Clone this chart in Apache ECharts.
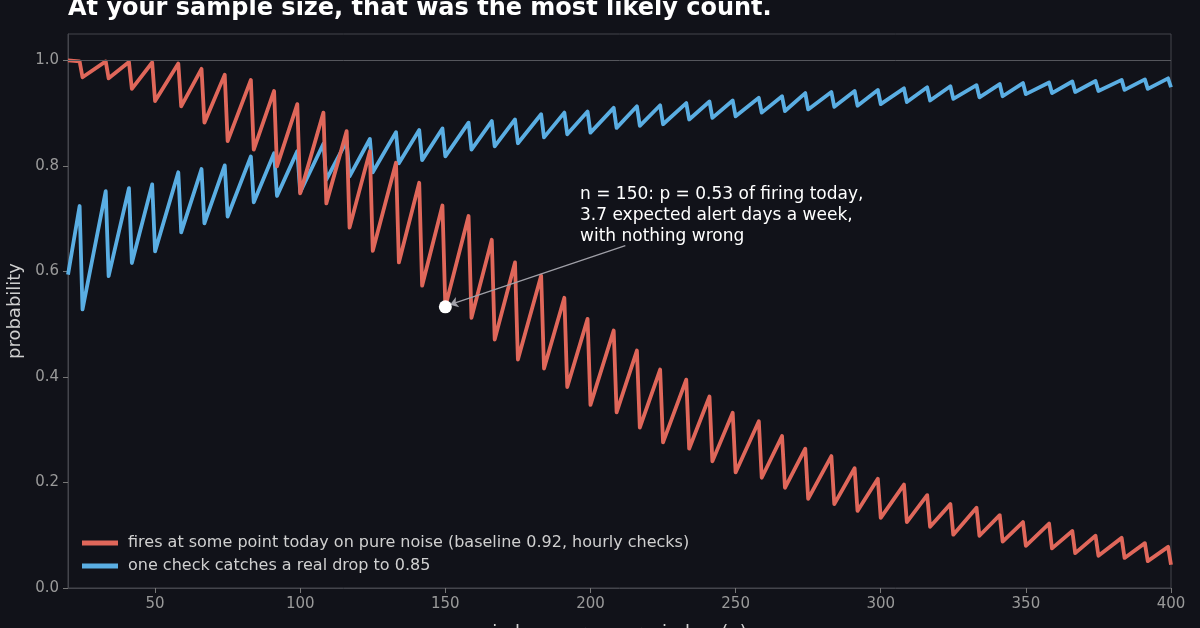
<!DOCTYPE html>
<html><head><meta charset="utf-8">
<script src="https://cdn.jsdelivr.net/npm/echarts@6/dist/echarts.min.js"></script>
<style>html,body{margin:0;background:#111219;}#c{width:1200px;height:628px;}</style>
</head><body><div id="c"></div>
<script>
// n at which each tooth peaks (value drops at n+1)
const toothN = [24,33,41,49,58,66,74,83,91,99,108,116,124,133,141,149,158,166,174,183,191,199,208,216,224,233,241,249,258,266,274,283,291,299,308,316,324,333,341,349,358,366,374,383,391,399];
const redStart = 1.0;
const redPeak = [0.998,0.998,0.997,0.996,0.994,0.984,0.973,0.963,0.942,0.917,0.901,0.866,0.828,0.806,0.768,0.725,0.705,0.660,0.617,0.592,0.550,0.510,0.488,0.450,0.414,0.395,0.363,0.332,0.316,0.288,0.264,0.250,0.227,0.207,0.196,0.176,0.159,0.152,0.138,0.125,0.122,0.108,0.099,0.095,0.085,0.078];
const redTrough = [0.968,0.966,0.946,0.923,0.913,0.882,0.847,0.831,0.799,0.748,0.729,0.683,0.639,0.617,0.573,0.533,0.512,0.471,0.433,0.416,0.381,0.347,0.333,0.304,0.276,0.264,0.240,0.219,0.209,0.190,0.169,0.159,0.146,0.133,0.125,0.116,0.101,0.099,0.088,0.080,0.075,0.066,0.061,0.057,0.051,0.044];
const blueStart = 0.594;
const bluePeak = [0.724,0.752,0.758,0.765,0.788,0.794,0.801,0.818,0.824,0.828,0.842,0.847,0.851,0.864,0.868,0.871,0.882,0.885,0.888,0.898,0.901,0.903,0.910,0.913,0.915,0.919,0.922,0.924,0.929,0.932,0.938,0.940,0.942,0.944,0.947,0.949,0.951,0.953,0.955,0.957,0.958,0.960,0.961,0.963,0.964,0.966];
const blueTrough = [0.528,0.591,0.616,0.638,0.674,0.691,0.704,0.731,0.743,0.750,0.774,0.780,0.788,0.805,0.811,0.818,0.831,0.837,0.843,0.854,0.860,0.863,0.872,0.876,0.879,0.888,0.891,0.894,0.901,0.904,0.907,0.912,0.914,0.917,0.921,0.924,0.927,0.930,0.932,0.936,0.938,0.940,0.942,0.944,0.946,0.949];
const highlight = [150, 0.533];
const arrowFrom = [212, 0.649];
const arrowTo = [151.6, 0.537];
const xTicks = [50,100,150,200,250,300,350,400];
const yTicks = [0,0.2,0.4,0.6,0.8,1.0];

function build(start, peaks, troughs){
  const d = [[20, start]];
  toothN.forEach((n,i)=>{ d.push([n, peaks[i]]); d.push([n+1, troughs[i]]); });
  return d;
}
const chart = echarts.init(document.getElementById('c'));
const axisLbl = {color:'#9a9a9a', fontSize:15, fontFamily:'DejaVu Sans'};
chart.setOption({
  backgroundColor:'#111219',
  animation:false,
  title:{text:'At your sample size, that was the most likely count.', left:63, top:-8,
    textStyle:{color:'#ffffff', fontSize:24, fontWeight:'bold', fontFamily:'DejaVu Sans'}},
  grid:{left:68, right:29, top:34, bottom:40, show:true, borderColor:'#44454c', borderWidth:1,
    containLabel:false, outerBoundsMode:'none'},
  legend:{left:77, top:530, orient:'vertical', itemWidth:36, itemHeight:5, itemGap:7,
    icon:'rect', textStyle:{color:'#d0d0d0', fontSize:16, fontFamily:'DejaVu Sans', padding:[0,0,0,5]},
    data:['fires at some point today on pure noise (baseline 0.92, hourly checks)','one check catches a real drop to 0.85']},
  xAxis:{type:'value', min:20, max:400, interval:50,
    axisLabel:Object.assign({customValues:xTicks, formatter:v=>String(v), margin:9}, axisLbl),
    axisTick:{customValues:xTicks, lineStyle:{color:'#777'}, length:5},
    name:'judge scores per window (n)', nameLocation:'middle', nameGap:36,
    nameTextStyle:{color:'#cfcfcf', fontSize:18, fontFamily:'DejaVu Sans'},
    axisLine:{lineStyle:{color:'#44454c'}}, splitLine:{show:false}},
  yAxis:{type:'value', min:0, max:1.05, interval:0.2,
    axisLabel:Object.assign({customValues:yTicks, formatter:v=>v.toFixed(1), margin:9}, axisLbl),
    axisTick:{show:true, customValues:yTicks, lineStyle:{color:'#777'}, length:5},
    name:'probability', nameLocation:'middle', nameGap:40,
    nameTextStyle:{color:'#cfcfcf', fontSize:18, fontFamily:'DejaVu Sans'},
    axisLine:{show:true, lineStyle:{color:'#44454c'}}, splitLine:{show:false}},
  series:[
    {name:'fires at some point today on pure noise (baseline 0.92, hourly checks)', type:'line',
     data:build(redStart, redPeak, redTrough), showSymbol:false, symbol:'none', z:3,
     itemStyle:{color:'#e0675a'}, lineStyle:{color:'#e0675a', width:3.8, join:'round'},
     markLine:{silent:true, symbol:'none', label:{show:false},
       lineStyle:{color:'#55565c', width:1, type:'solid'}, data:[{yAxis:1.0}]}},
    {name:'one check catches a real drop to 0.85', type:'line',
     data:build(blueStart, bluePeak, blueTrough), showSymbol:false, symbol:'none', z:2,
     itemStyle:{color:'#5aaee3'}, lineStyle:{color:'#5aaee3', width:3.8, join:'round'}},
    {type:'scatter', data:[highlight], symbolSize:13, z:10,
     itemStyle:{color:'#ffffff', opacity:1},
     markLine:{silent:true, symbol:['none','arrow'], symbolSize:8, label:{show:false},
       lineStyle:{color:'#a0a0a8', width:1.2, type:'solid'},
       data:[[{coord:arrowFrom},{coord:arrowTo}]]}}
  ],
  graphic:[{type:'text', left:580, top:184, z:20,
    style:{text:'n = 150: p = 0.53 of firing today,\n3.7 expected alert days a week,\nwith nothing wrong',
      fill:'#ffffff', fontSize:17, lineHeight:21, fontFamily:'DejaVu Sans'}}]
});
</script></body></html>
